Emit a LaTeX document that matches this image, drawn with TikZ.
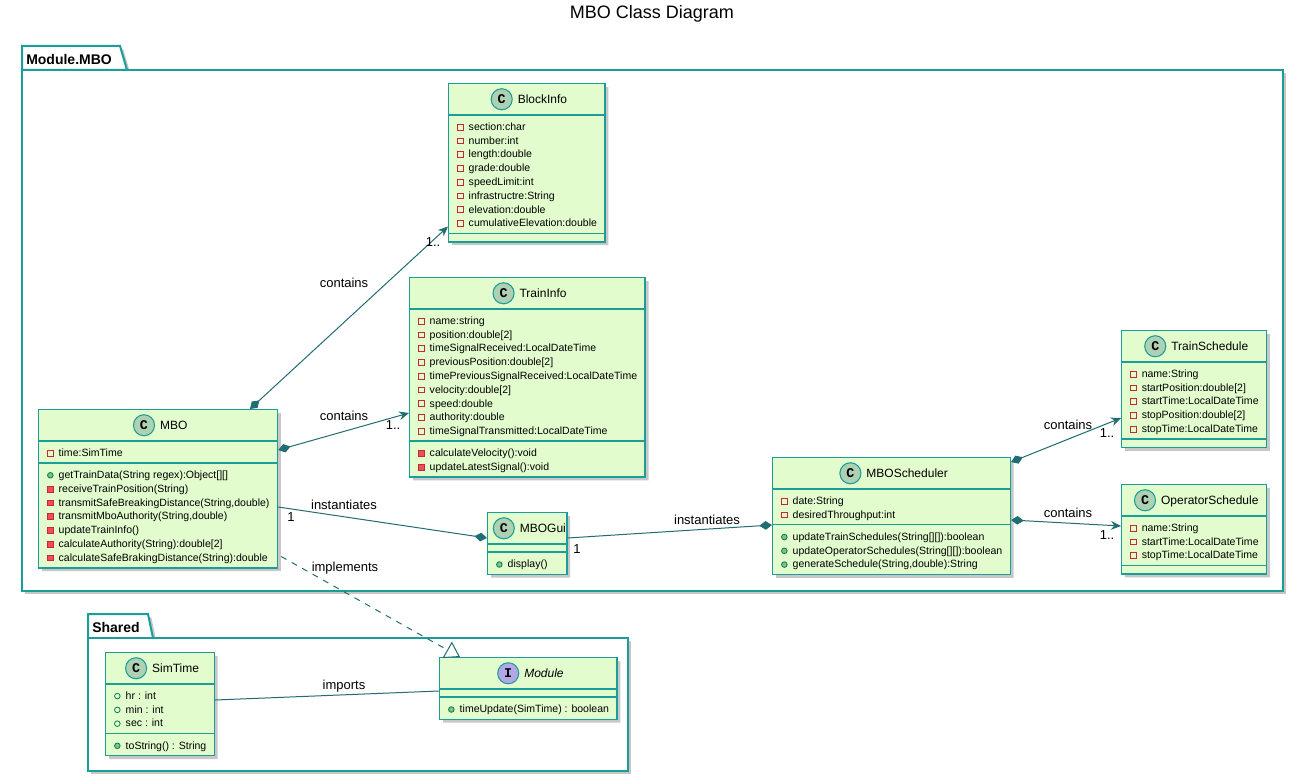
\documentclass[tikz,border=0pt]{standalone}
\usepackage{fontspec}
\setmainfont{Liberation Sans}
\newfontfamily\spotfont{Liberation Mono}
\usetikzlibrary{shapes.multipart,arrows.meta,calc,shadows}

\definecolor{clsfill}{HTML}{E2FCCE}
\definecolor{clsborder}{HTML}{1B9E98}
\definecolor{edgecol}{HTML}{226D73}
\definecolor{spotc}{HTML}{ADD1B2}
\definecolor{spoti}{HTML}{B4A7E5}
\definecolor{privline}{HTML}{C82930}
\definecolor{privfill}{HTML}{F24D5C}
\definecolor{publine}{HTML}{038048}
\definecolor{pubfill}{HTML}{84BE84}

% row icons and class headers
\newcommand{\rowstrut}{\rule[-1.8pt]{0pt}{10.33pt}}
\newcommand{\attrpriv}{\rowstrut\tikz[baseline=0pt]{\useasboundingbox (0pt,-0.5pt) rectangle (5.25pt,5.5pt);
  \draw[privline,line width=0.6pt,fill=none] (0.6pt,0.3pt) rectangle (4.9pt,4.6pt);}\hspace{3.75pt}}
\newcommand{\methpriv}{\rowstrut\tikz[baseline=0pt]{\useasboundingbox (0pt,-0.5pt) rectangle (5.25pt,5.5pt);
  \draw[privline,fill=privfill,line width=0.6pt] (0.6pt,0.3pt) rectangle (4.9pt,4.6pt);}\hspace{3.75pt}}
\newcommand{\attrpub}{\rowstrut\tikz[baseline=0pt]{\useasboundingbox (0pt,-0.5pt) rectangle (5.25pt,5.5pt);
  \draw[publine,line width=0.6pt,fill=none] (2.7pt,2.45pt) circle (2.1pt);}\hspace{3.75pt}}
\newcommand{\methpub}{\rowstrut\tikz[baseline=0pt]{\useasboundingbox (0pt,-0.5pt) rectangle (5.25pt,5.5pt);
  \draw[publine,fill=pubfill,line width=0.6pt] (2.7pt,2.45pt) circle (2.1pt);}\hspace{3.75pt}}
\newcommand{\spot}[2]{\kern-2.25pt\rule[-5.5pt]{0pt}{17pt}\tikz[baseline=-3pt]{%
  \draw[clsborder,fill=#1,line width=0.8pt] (0pt,0pt) circle (7.9pt);
  \path (0pt,0pt) node[shape=rectangle,draw=none,fill=none,inner sep=0pt,anchor=center,text=black,font=\spotfont\bfseries\fontsize{10}{10}\selectfont] {#2};}\hspace{3.75pt}}
\newcommand{\clsname}[1]{{\fontsize{9}{10}\selectfont #1}\kern-5.3pt}
\newcommand{\nomembers}{\rule{0.1pt}{0pt}}

\tikzset{
  cls/.style={rectangle split, rectangle split parts=3,
    rectangle split part align={center,left,left}, align=left,
    draw=clsborder, fill=clsfill, line width=1.1pt, inner xsep=6pt, inner ysep=2.6pt,
    anchor=north west, font=\fontsize{7.9}{10.33}\selectfont,
    drop shadow={shadow xshift=2.5pt, shadow yshift=-2.5pt, fill=black, opacity=0.22}},
  pkg/.style={draw=clsborder, fill=white, line width=1.5pt,
    drop shadow={shadow xshift=2.5pt, shadow yshift=-2.5pt, fill=black, opacity=0.22}},
  pkglbl/.style={font=\bfseries\fontsize{10.5}{12}\selectfont, inner sep=0pt, anchor=west},
  assoc/.style={draw=edgecol, line width=0.75pt},
  elbl/.style={font=\fontsize{9.75}{11}\selectfont, inner sep=0pt},
  comp/.style={{Diamond[length=9.5pt,width=6.5pt]}-{Stealth[length=7.5pt,width=6.5pt,inset=2.5pt]}},
}

\begin{document}
\begin{tikzpicture}[x=0.75pt, y=-0.75pt]
\useasboundingbox (0,0) rectangle (1305,781);

\node[font=\fontsize{13.5}{16}\selectfont] (title) at (652,14) {MBO Class Diagram};

% packages
\draw[pkg] (22,70) -- (22,46) -- (120,46) -- (127,70) -- cycle;
\draw[pkg] (22,70) rectangle (1283,591);
\node[pkglbl] (pkgmbo) at (26,59) {Module.MBO};

\draw[pkg] (88,638) -- (88,614) -- (148,614) -- (153,638) -- cycle;
\draw[pkg] (88,638) rectangle (628,771);
\node[pkglbl] (pkgshared) at (92,627) {Shared};

% classes of Module.MBO
\node[cls] (blockinfo) at (448,83) {\spot{spotc}{C}\clsname{BlockInfo}
  \nodepart{two}\attrpriv section:char\\\attrpriv number:int\\\attrpriv length:double\\
  \attrpriv grade:double\\\attrpriv speedLimit:int\\\attrpriv infrastructre:String\\
  \attrpriv elevation:double\\\attrpriv cumulativeElevation:double
  \nodepart{three}\nomembers};

\node[cls] (traininfo) at (409,277) {\spot{spotc}{C}\clsname{TrainInfo}
  \nodepart{two}\attrpriv name:string\\\attrpriv position:double[2]\\
  \attrpriv timeSignalReceived:LocalDateTime\\\attrpriv previousPosition:double[2]\\
  \attrpriv timePreviousSignalReceived:LocalDateTime\\\attrpriv velocity:double[2]\\
  \attrpriv speed:double\\\attrpriv authority:double\\\attrpriv timeSignalTransmitted:LocalDateTime
  \nodepart{three}\methpriv calculateVelocity():void\\\methpriv updateLatestSignal():void};

\node[cls] (mbo) at (38,409) {\spot{spotc}{C}\clsname{MBO}
  \nodepart{two}\attrpriv time:SimTime
  \nodepart{three}\methpub getTrainData(String regex):Object[][]\\
  \methpriv receiveTrainPosition(String)\\\methpriv transmitSafeBreakingDistance(String,double)\\
  \methpriv transmitMboAuthority(String,double)\\\methpriv updateTrainInfo()\\
  \methpriv calculateAuthority(String):double[2]\\\methpriv calculateSafeBrakingDistance(String):double};

\node[cls] (mbogui) at (487,512) {\spot{spotc}{C}\clsname{MBOGui}
  \nodepart{two}\nomembers
  \nodepart{three}\methpub display()};

\node[cls] (mbosched) at (772,457) {\spot{spotc}{C}\clsname{MBOScheduler}
  \nodepart{two}\attrpriv date:String\\\attrpriv desiredThroughput:int
  \nodepart{three}\methpub updateTrainSchedules(String[][]):boolean\\
  \methpub updateOperatorSchedules(String[][]):boolean\\\methpub generateSchedule(String,double):String};

\node[cls] (trainsched) at (1121,330) {\spot{spotc}{C}\clsname{TrainSchedule}
  \nodepart{two}\attrpriv name:String\\\attrpriv startPosition:double[2]\\
  \attrpriv startTime:LocalDateTime\\\attrpriv stopPosition:double[2]\\\attrpriv stopTime:LocalDateTime
  \nodepart{three}\nomembers};

\node[cls] (opsched) at (1121,484) {\spot{spotc}{C}\clsname{OperatorSchedule}
  \nodepart{two}\attrpriv name:String\\\attrpriv startTime:LocalDateTime\\\attrpriv stopTime:LocalDateTime
  \nodepart{three}\nomembers};

% classes of Shared
\node[cls] (simtime) at (105,652) {\spot{spotc}{C}\clsname{SimTime}
  \nodepart{two}\attrpub hr : int\\\attrpub min : int\\\attrpub sec : int
  \nodepart{three}\methpub toString() : String};

\node[cls] (module) at (439,657) {\spot{spoti}{I}\clsname{\itshape Module}
  \nodepart{two}\nomembers
  \nodepart{three}\methpub timeUpdate(SimTime) : boolean};

% relations
\draw[assoc,comp] ($(mbo.north west)+(212,0)$) -- ($(blockinfo.south west)+(0,-16)$);
\draw[assoc,comp] ($(mbo.north east)+(0,41)$) -- ($(traininfo.north west)+(0,136)$);
\draw[assoc,{Diamond[length=9.5pt,width=6.5pt]}-] ($(mbogui.north west)+(0,26)$) -- ($(mbo.north east)+(0,98)$);
\draw[assoc,{Diamond[length=9.5pt,width=6.5pt]}-] ($(mbosched.north west)+(0,68)$) -- ($(mbogui.north east)+(0,26)$);
\draw[assoc,comp] ($(mbosched.north east)+(0,5)$) -- ($(trainsched.north west)+(0,88)$);
\draw[assoc,comp] ($(mbosched.north east)+(0,63)$) -- ($(opsched.north west)+(0,42)$);
\draw[assoc,dash pattern=on 4.5pt off 4.5pt,-{Triangle[open,length=11pt,width=14pt,fill=white]}]
  ($(mbo.south east)+(3,-12)$) -- ($(module.north west)+(21,0)$);
\draw[assoc] ($(simtime.north east)+(0,48)$) -- ($(module.north west)+(0,34)$);

% labels
\node[elbl] (lcontblock) at (344,283) {contains};
\node[elbl] (mblock) at (433,242) {1..};
\node[elbl] (lconttrain) at (344,416) {contains};
\node[elbl] (mtrain) at (393,425) {1..};
\node[elbl] (linstgui) at (344,505) {instantiates};
\node[elbl] (mgui) at (291,517) {1};
\node[elbl] (linstsched) at (707,520) {instantiates};
\node[elbl] (msched) at (577,549) {1};
\node[elbl] (lconttsched) at (1068,425) {contains};
\node[elbl] (mtsched) at (1107,433) {1..};
\node[elbl] (lcontosched) at (1068,513) {contains};
\node[elbl] (mosched) at (1107,535) {1..};
\node[elbl] (limpl) at (345,568) {implements};
\node[elbl] (limport) at (344,686) {imports};
\end{tikzpicture}
\end{document}
